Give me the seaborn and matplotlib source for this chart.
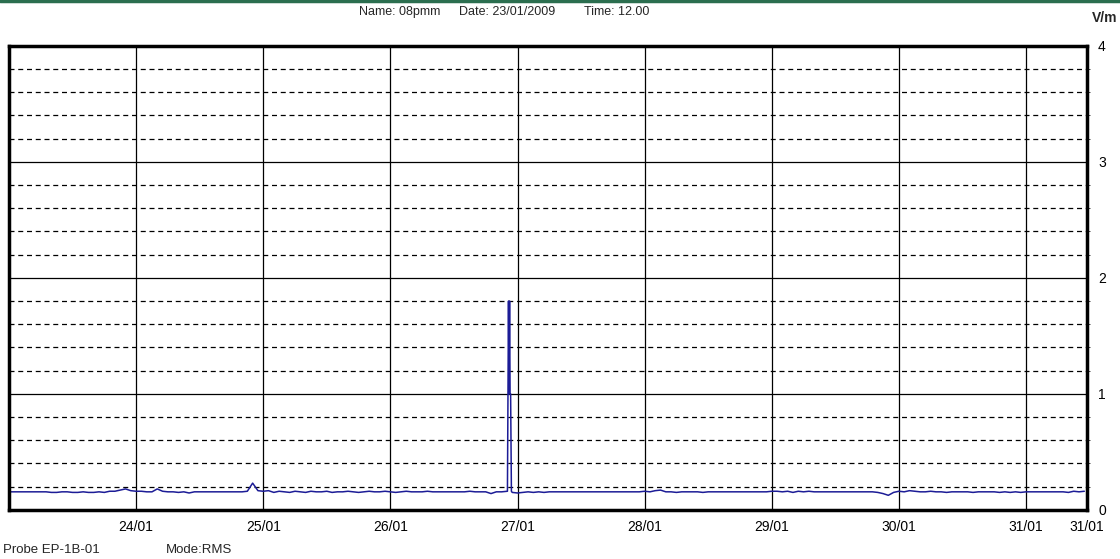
import pandas as pd
import matplotlib.pyplot as plt
import seaborn as sns
from matplotlib.ticker import MultipleLocator
from matplotlib.lines import Line2D

# hourly readings (V/m) from 23/01 00:00, one list per day
day_2301 = [0.155, 0.155, 0.155, 0.155, 0.155, 0.155, 0.155, 0.155, 0.150, 0.150, 0.155, 0.155,
            0.150, 0.150, 0.155, 0.150, 0.150, 0.155, 0.150, 0.160, 0.160, 0.170, 0.180, 0.165]
day_2401 = [0.160, 0.160, 0.155, 0.155, 0.180, 0.160, 0.155, 0.155, 0.150, 0.155, 0.145, 0.155,
            0.155, 0.155, 0.155, 0.155, 0.155, 0.155, 0.155, 0.155, 0.155, 0.160, 0.230, 0.165]
day_2501 = [0.160, 0.165, 0.150, 0.160, 0.155, 0.150, 0.160, 0.155, 0.150, 0.160, 0.155, 0.155,
            0.160, 0.150, 0.155, 0.155, 0.160, 0.155, 0.150, 0.155, 0.160, 0.155, 0.155, 0.160]
day_2601 = [0.155, 0.150, 0.155, 0.160, 0.155, 0.155, 0.155, 0.160, 0.155, 0.155, 0.155, 0.155,
            0.155, 0.155, 0.155, 0.160, 0.155, 0.155, 0.155, 0.140, 0.155, 0.155, 0.160, 0.155]
day_2701 = [0.145, 0.150, 0.155, 0.150, 0.155, 0.150, 0.155, 0.155, 0.155, 0.155, 0.155, 0.155,
            0.155, 0.155, 0.155, 0.155, 0.155, 0.155, 0.155, 0.155, 0.155, 0.155, 0.155, 0.155]
day_2801 = [0.160, 0.155, 0.165, 0.170, 0.155, 0.155, 0.150, 0.155, 0.155, 0.155, 0.155, 0.150,
            0.155, 0.155, 0.155, 0.155, 0.155, 0.155, 0.155, 0.155, 0.155, 0.155, 0.155, 0.155]
day_2901 = [0.160, 0.160, 0.155, 0.160, 0.150, 0.160, 0.155, 0.160, 0.155, 0.155, 0.155, 0.155,
            0.155, 0.155, 0.155, 0.155, 0.155, 0.155, 0.155, 0.155, 0.150, 0.140, 0.125, 0.150]
day_3001 = [0.160, 0.155, 0.165, 0.160, 0.155, 0.155, 0.160, 0.155, 0.155, 0.150, 0.155, 0.155,
            0.155, 0.155, 0.150, 0.155, 0.155, 0.155, 0.155, 0.150, 0.155, 0.150, 0.155, 0.150]
day_3101 = [0.155, 0.155, 0.155, 0.155, 0.155, 0.155, 0.155, 0.155, 0.150, 0.160, 0.155, 0.160]

# spike on the evening of 26/01 (hour offset, V/m)
spike_hours = [93.0, 94.1, 94.2, 94.3, 94.4, 94.5, 94.6, 94.7, 94.85, 95.0]
spike_vm = [0.155, 0.160, 1.00, 1.80, 1.00, 1.80, 1.00, 1.00, 0.160, 0.150]

day_labels = ['24/01', '25/01', '26/01', '27/01', '28/01', '29/01', '30/01', '31/01', '31/01']
end_hour = 203.5

hourly = day_2301 + day_2401 + day_2501 + day_2601 + day_2701 + day_2801 + day_2901 + day_3001 + day_3101
df = pd.DataFrame({'hour': list(range(len(hourly))), 'vm': hourly})
df = df[(df.hour < 93) | (df.hour > 95)]
df = pd.concat([df, pd.DataFrame({'hour': spike_hours, 'vm': spike_vm})]).sort_values('hour')

sns.set_style('white')
plt.rcParams['font.family'] = ['Liberation Sans', 'DejaVu Sans']

fig = plt.figure(figsize=(11.2, 5.59), dpi=100)
ax = fig.add_axes([0.008, 0.088, 0.9625, 0.83])

sns.lineplot(data=df, x='hour', y='vm', ax=ax, color='#1c1c96', linewidth=1.1, estimator=None)

ax.set_xlim(0, end_hour)
ax.set_ylim(0, 4)
ax.set_xticks([24 * i for i in range(1, 9)] + [end_hour])
ax.set_xticklabels(day_labels)
ax.yaxis.set_major_locator(MultipleLocator(1))
ax.yaxis.set_minor_locator(MultipleLocator(0.2))
ax.yaxis.tick_right()
ax.tick_params(axis='both', length=0, labelsize=10, colors='black', pad=7)
ax.tick_params(axis='y', pad=8)
ax.grid(which='major', color='black', linewidth=0.9, linestyle='-')
ax.grid(which='minor', axis='y', color='black', linewidth=0.9, linestyle=(0, (4, 3)))
ax.set_axisbelow(True)
ax.set_xlabel('')
ax.set_ylabel('')
for s in ax.spines.values():
    s.set_color('black')
    s.set_linewidth(2.5)

fig.add_artist(Line2D([0, 1], [0.998, 0.998], color='#2b6e4f', linewidth=2.5))
fig.text(0.357, 0.978, 'Name: 08pmm', fontsize=9, ha='center', va='center')
fig.text(0.453, 0.978, 'Date: 23/01/2009', fontsize=9, ha='center', va='center')
fig.text(0.551, 0.978, 'Time: 12.00', fontsize=9, ha='center', va='center')
fig.text(0.998, 0.967, 'V/m', fontsize=10, fontweight='bold', ha='right', va='center')
fig.text(0.003, 0.016, 'Probe EP-1B-01', fontsize=9.5, va='center')
fig.text(0.148, 0.016, 'Mode:RMS', fontsize=9.5, va='center')

plt.savefig('out.png', dpi=100)
